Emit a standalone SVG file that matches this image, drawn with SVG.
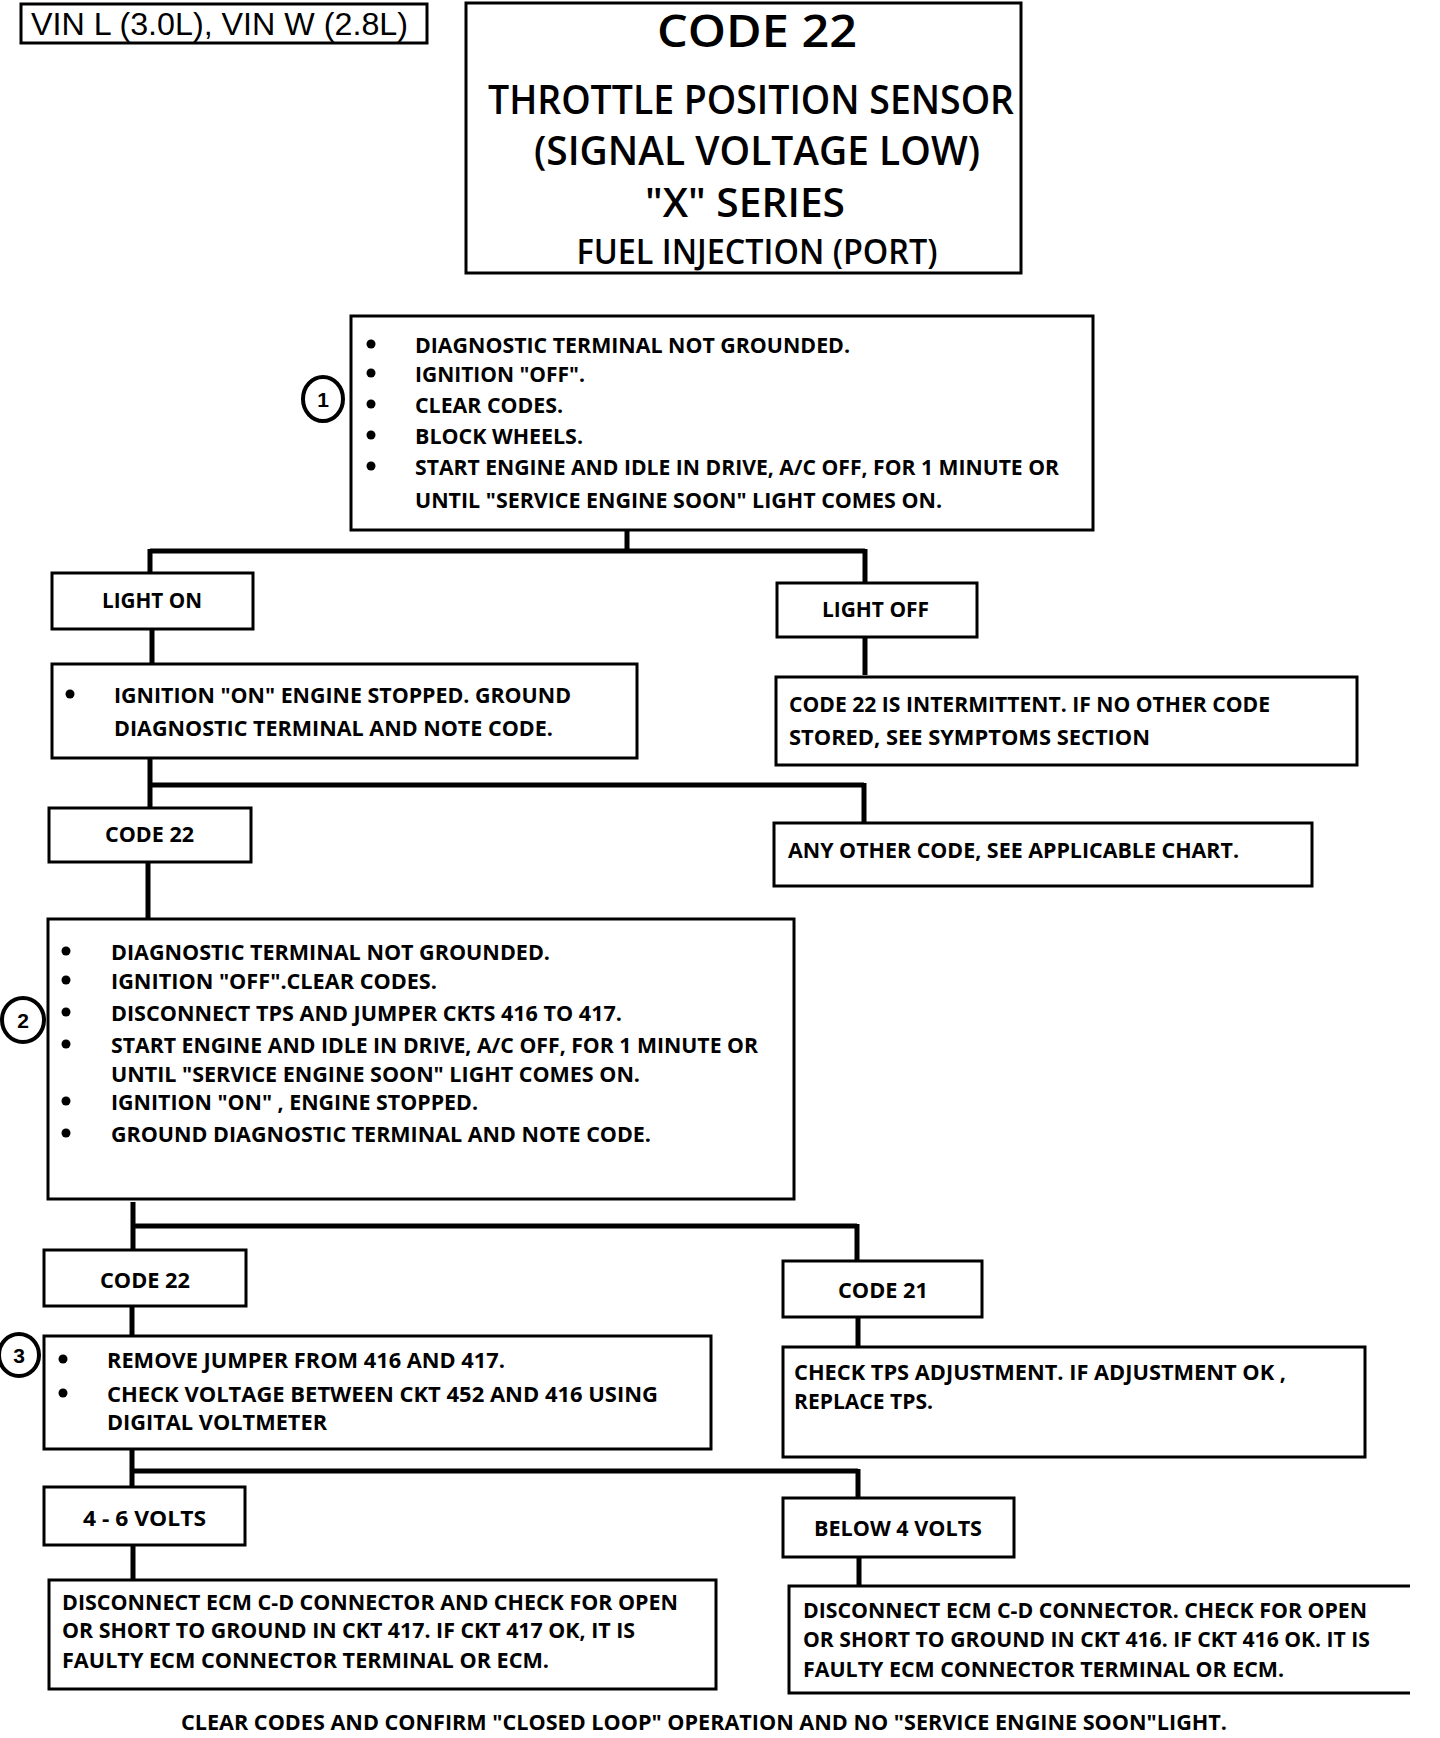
<svg xmlns="http://www.w3.org/2000/svg" width="1440" height="1738" viewBox="0 0 1440 1738">
<style>
.bg{fill:#fff}
.box{fill:#fff;stroke:#000;stroke-width:3}
.con{fill:none;stroke:#000;stroke-width:5}
.t{font-family:"Open Sans","Liberation Sans",sans-serif;font-weight:700;font-size:21px;fill:#000}
.ti{font-family:"Open Sans","Liberation Sans",sans-serif;font-weight:600;fill:#000}
.vin{font-family:"Liberation Sans",Arial,sans-serif;font-size:32px;fill:#000}
.bul{fill:#000}
.num{fill:#fff;stroke:#000;stroke-width:4}
.nt{font-family:"Liberation Sans",Arial,sans-serif;font-weight:700;font-size:21px;fill:#000;text-anchor:middle}
</style>
<rect class="bg" x="0" y="0" width="1440" height="1738"/>

<g id="connectors">
  <path class="con" d="M627 531 V551 M150 551 H865 M150 549 V573 M865 549 V584"/>
  <path class="con" d="M152 629 V663 M865 637 V675"/>
  <path class="con" d="M150 758 V807 M150 785 H864 M864 783 V822"/>
  <path class="con" d="M148 862 V919"/>
  <path class="con" d="M133 1202 V1250 M133 1226 H857 M857 1224 V1261"/>
  <path class="con" d="M132 1306 V1335 M858 1317 V1346"/>
  <path class="con" d="M132 1449 V1487 M132 1471 H858 M858 1469 V1498"/>
  <path class="con" d="M133 1546 V1579 M859 1557 V1585"/>
</g>

<g id="vin">
  <rect class="box" x="21" y="4" width="406" height="39"/>
  <text class="vin" x="31" y="35" textLength="377" lengthAdjust="spacingAndGlyphs">VIN L (3.0L), VIN W (2.8L)</text>
</g>

<g id="title">
  <rect class="box" x="466" y="3" width="555" height="270"/>
  <text class="ti" x="757" y="47" font-size="46" text-anchor="middle" textLength="200" lengthAdjust="spacingAndGlyphs">CODE 22</text>
  <text class="ti" x="751" y="114" font-size="40" text-anchor="middle" textLength="526" lengthAdjust="spacingAndGlyphs">THROTTLE POSITION SENSOR</text>
  <text class="ti" x="757" y="165" font-size="40" text-anchor="middle" textLength="446" lengthAdjust="spacingAndGlyphs">(SIGNAL VOLTAGE LOW)</text>
  <text class="ti" x="745" y="217" font-size="40" text-anchor="middle" textLength="200" lengthAdjust="spacingAndGlyphs">"X" SERIES</text>
  <text class="ti" x="757" y="264" font-size="34" text-anchor="middle" textLength="361" lengthAdjust="spacingAndGlyphs">FUEL INJECTION (PORT)</text>
</g>

<g id="step1">
  <rect class="box" x="351" y="316" width="742" height="214"/>
  <circle class="bul" cx="371" cy="344" r="4.5"/>
  <circle class="bul" cx="371" cy="373" r="4.5"/>
  <circle class="bul" cx="371" cy="404" r="4.5"/>
  <circle class="bul" cx="371" cy="435" r="4.5"/>
  <circle class="bul" cx="371" cy="466" r="4.5"/>
  <text class="t" x="415" y="353" textLength="435" lengthAdjust="spacingAndGlyphs">DIAGNOSTIC TERMINAL NOT GROUNDED.</text>
  <text class="t" x="415" y="382" textLength="170" lengthAdjust="spacingAndGlyphs">IGNITION "OFF".</text>
  <text class="t" x="415" y="413" textLength="148" lengthAdjust="spacingAndGlyphs">CLEAR CODES.</text>
  <text class="t" x="415" y="444" textLength="168" lengthAdjust="spacingAndGlyphs">BLOCK WHEELS.</text>
  <text class="t" x="415" y="475" textLength="644" lengthAdjust="spacingAndGlyphs">START ENGINE AND IDLE IN DRIVE, A/C OFF, FOR 1 MINUTE OR</text>
  <text class="t" x="415" y="508" textLength="527" lengthAdjust="spacingAndGlyphs">UNTIL "SERVICE ENGINE SOON" LIGHT COMES ON.</text>
</g>
<g id="marker1">
  <ellipse class="num" cx="323" cy="399" rx="20" ry="22"/>
  <text class="nt" x="323" y="407">1</text>
</g>

<g id="lighton">
  <rect class="box" x="52" y="573" width="201" height="56"/>
  <text class="t" x="102" y="608" textLength="100" lengthAdjust="spacingAndGlyphs">LIGHT ON</text>
</g>
<g id="lightoff">
  <rect class="box" x="777" y="583" width="200" height="54"/>
  <text class="t" x="822" y="617" textLength="107" lengthAdjust="spacingAndGlyphs">LIGHT OFF</text>
</g>

<g id="ignon">
  <rect class="box" x="52" y="664" width="585" height="94"/>
  <circle class="bul" cx="70" cy="694" r="4.5"/>
  <text class="t" x="114" y="703" textLength="457" lengthAdjust="spacingAndGlyphs">IGNITION "ON" ENGINE STOPPED. GROUND</text>
  <text class="t" x="114" y="736" textLength="439" lengthAdjust="spacingAndGlyphs">DIAGNOSTIC TERMINAL AND NOTE CODE.</text>
</g>
<g id="intermittent">
  <rect class="box" x="776" y="677" width="581" height="88"/>
  <text class="t" x="789" y="712" textLength="481" lengthAdjust="spacingAndGlyphs">CODE 22 IS INTERMITTENT. IF NO OTHER CODE</text>
  <text class="t" x="789" y="745" textLength="361" lengthAdjust="spacingAndGlyphs">STORED, SEE SYMPTOMS SECTION</text>
</g>

<g id="code22a">
  <rect class="box" x="49" y="808" width="202" height="54"/>
  <text class="t" x="105" y="842" textLength="89" lengthAdjust="spacingAndGlyphs">CODE 22</text>
</g>
<g id="othercode">
  <rect class="box" x="774" y="823" width="538" height="63"/>
  <text class="t" x="788" y="858" textLength="451" lengthAdjust="spacingAndGlyphs">ANY OTHER CODE, SEE APPLICABLE CHART.</text>
</g>

<g id="step2">
  <rect class="box" x="48" y="919" width="746" height="280"/>
  <circle class="bul" cx="66" cy="951" r="4.5"/>
  <circle class="bul" cx="66" cy="980" r="4.5"/>
  <circle class="bul" cx="66" cy="1012" r="4.5"/>
  <circle class="bul" cx="66" cy="1044" r="4.5"/>
  <circle class="bul" cx="66" cy="1101" r="4.5"/>
  <circle class="bul" cx="66" cy="1133" r="4.5"/>
  <text class="t" x="111" y="960" textLength="439" lengthAdjust="spacingAndGlyphs">DIAGNOSTIC TERMINAL NOT GROUNDED.</text>
  <text class="t" x="111" y="989" textLength="326" lengthAdjust="spacingAndGlyphs">IGNITION "OFF".CLEAR CODES.</text>
  <text class="t" x="111" y="1021" textLength="511" lengthAdjust="spacingAndGlyphs">DISCONNECT TPS AND JUMPER CKTS 416 TO 417.</text>
  <text class="t" x="111" y="1053" textLength="647" lengthAdjust="spacingAndGlyphs">START ENGINE AND IDLE IN DRIVE, A/C OFF, FOR 1 MINUTE OR</text>
  <text class="t" x="111" y="1082" textLength="529" lengthAdjust="spacingAndGlyphs">UNTIL "SERVICE ENGINE SOON" LIGHT COMES ON.</text>
  <text class="t" x="111" y="1110" textLength="367" lengthAdjust="spacingAndGlyphs">IGNITION "ON" , ENGINE STOPPED.</text>
  <text class="t" x="111" y="1142" textLength="540" lengthAdjust="spacingAndGlyphs">GROUND DIAGNOSTIC TERMINAL AND NOTE CODE.</text>
</g>
<g id="marker2">
  <ellipse class="num" cx="23" cy="1020" rx="21" ry="22"/>
  <text class="nt" x="23" y="1028">2</text>
</g>

<g id="code22b">
  <rect class="box" x="44" y="1250" width="202" height="56"/>
  <text class="t" x="100" y="1288" textLength="90" lengthAdjust="spacingAndGlyphs">CODE 22</text>
</g>
<g id="code21">
  <rect class="box" x="783" y="1261" width="199" height="56"/>
  <text class="t" x="838" y="1298" textLength="90" lengthAdjust="spacingAndGlyphs">CODE 21</text>
</g>

<g id="step3">
  <rect class="box" x="44" y="1336" width="667" height="113"/>
  <circle class="bul" cx="63" cy="1359" r="4.5"/>
  <circle class="bul" cx="63" cy="1393" r="4.5"/>
  <text class="t" x="107" y="1368" textLength="398" lengthAdjust="spacingAndGlyphs">REMOVE JUMPER FROM 416 AND 417.</text>
  <text class="t" x="107" y="1402" textLength="551" lengthAdjust="spacingAndGlyphs">CHECK VOLTAGE BETWEEN CKT 452 AND 416 USING</text>
  <text class="t" x="107" y="1430" textLength="220" lengthAdjust="spacingAndGlyphs">DIGITAL VOLTMETER</text>
</g>
<g id="marker3">
  <ellipse class="num" cx="19" cy="1355" rx="20" ry="21"/>
  <text class="nt" x="19" y="1363">3</text>
</g>
<g id="checktps">
  <rect class="box" x="783" y="1347" width="582" height="110"/>
  <text class="t" x="794" y="1380" textLength="492" lengthAdjust="spacingAndGlyphs">CHECK TPS ADJUSTMENT. IF ADJUSTMENT OK ,</text>
  <text class="t" x="794" y="1409" textLength="139" lengthAdjust="spacingAndGlyphs">REPLACE TPS.</text>
</g>

<g id="volts46">
  <rect class="box" x="44" y="1487" width="201" height="58"/>
  <text class="t" x="83" y="1526" textLength="123" lengthAdjust="spacingAndGlyphs">4 - 6 VOLTS</text>
</g>
<g id="below4">
  <rect class="box" x="783" y="1498" width="231" height="59"/>
  <text class="t" x="814" y="1536" textLength="168" lengthAdjust="spacingAndGlyphs">BELOW 4 VOLTS</text>
</g>

<g id="ckt417">
  <rect class="box" x="49" y="1580" width="667" height="109"/>
  <text class="t" x="62" y="1610" textLength="616" lengthAdjust="spacingAndGlyphs">DISCONNECT ECM C-D CONNECTOR AND CHECK FOR OPEN</text>
  <text class="t" x="62" y="1638" textLength="573" lengthAdjust="spacingAndGlyphs">OR SHORT TO GROUND IN CKT 417. IF CKT 417 OK, IT IS</text>
  <text class="t" x="62" y="1668" textLength="487" lengthAdjust="spacingAndGlyphs">FAULTY ECM CONNECTOR TERMINAL OR ECM.</text>
</g>
<g id="ckt416">
  <path class="box" d="M1410 1586 H789 V1693 H1410"/>
  <text class="t" x="803" y="1618" textLength="564" lengthAdjust="spacingAndGlyphs">DISCONNECT ECM C-D CONNECTOR. CHECK FOR OPEN</text>
  <text class="t" x="803" y="1647" textLength="567" lengthAdjust="spacingAndGlyphs">OR SHORT TO GROUND IN CKT 416. IF CKT 416 OK. IT IS</text>
  <text class="t" x="803" y="1677" textLength="481" lengthAdjust="spacingAndGlyphs">FAULTY ECM CONNECTOR TERMINAL OR ECM.</text>
</g>

<g id="footer">
  <text class="t" x="181" y="1730" textLength="1046" lengthAdjust="spacingAndGlyphs">CLEAR CODES AND CONFIRM "CLOSED LOOP" OPERATION AND NO "SERVICE ENGINE SOON"LIGHT.</text>
</g>
</svg>
